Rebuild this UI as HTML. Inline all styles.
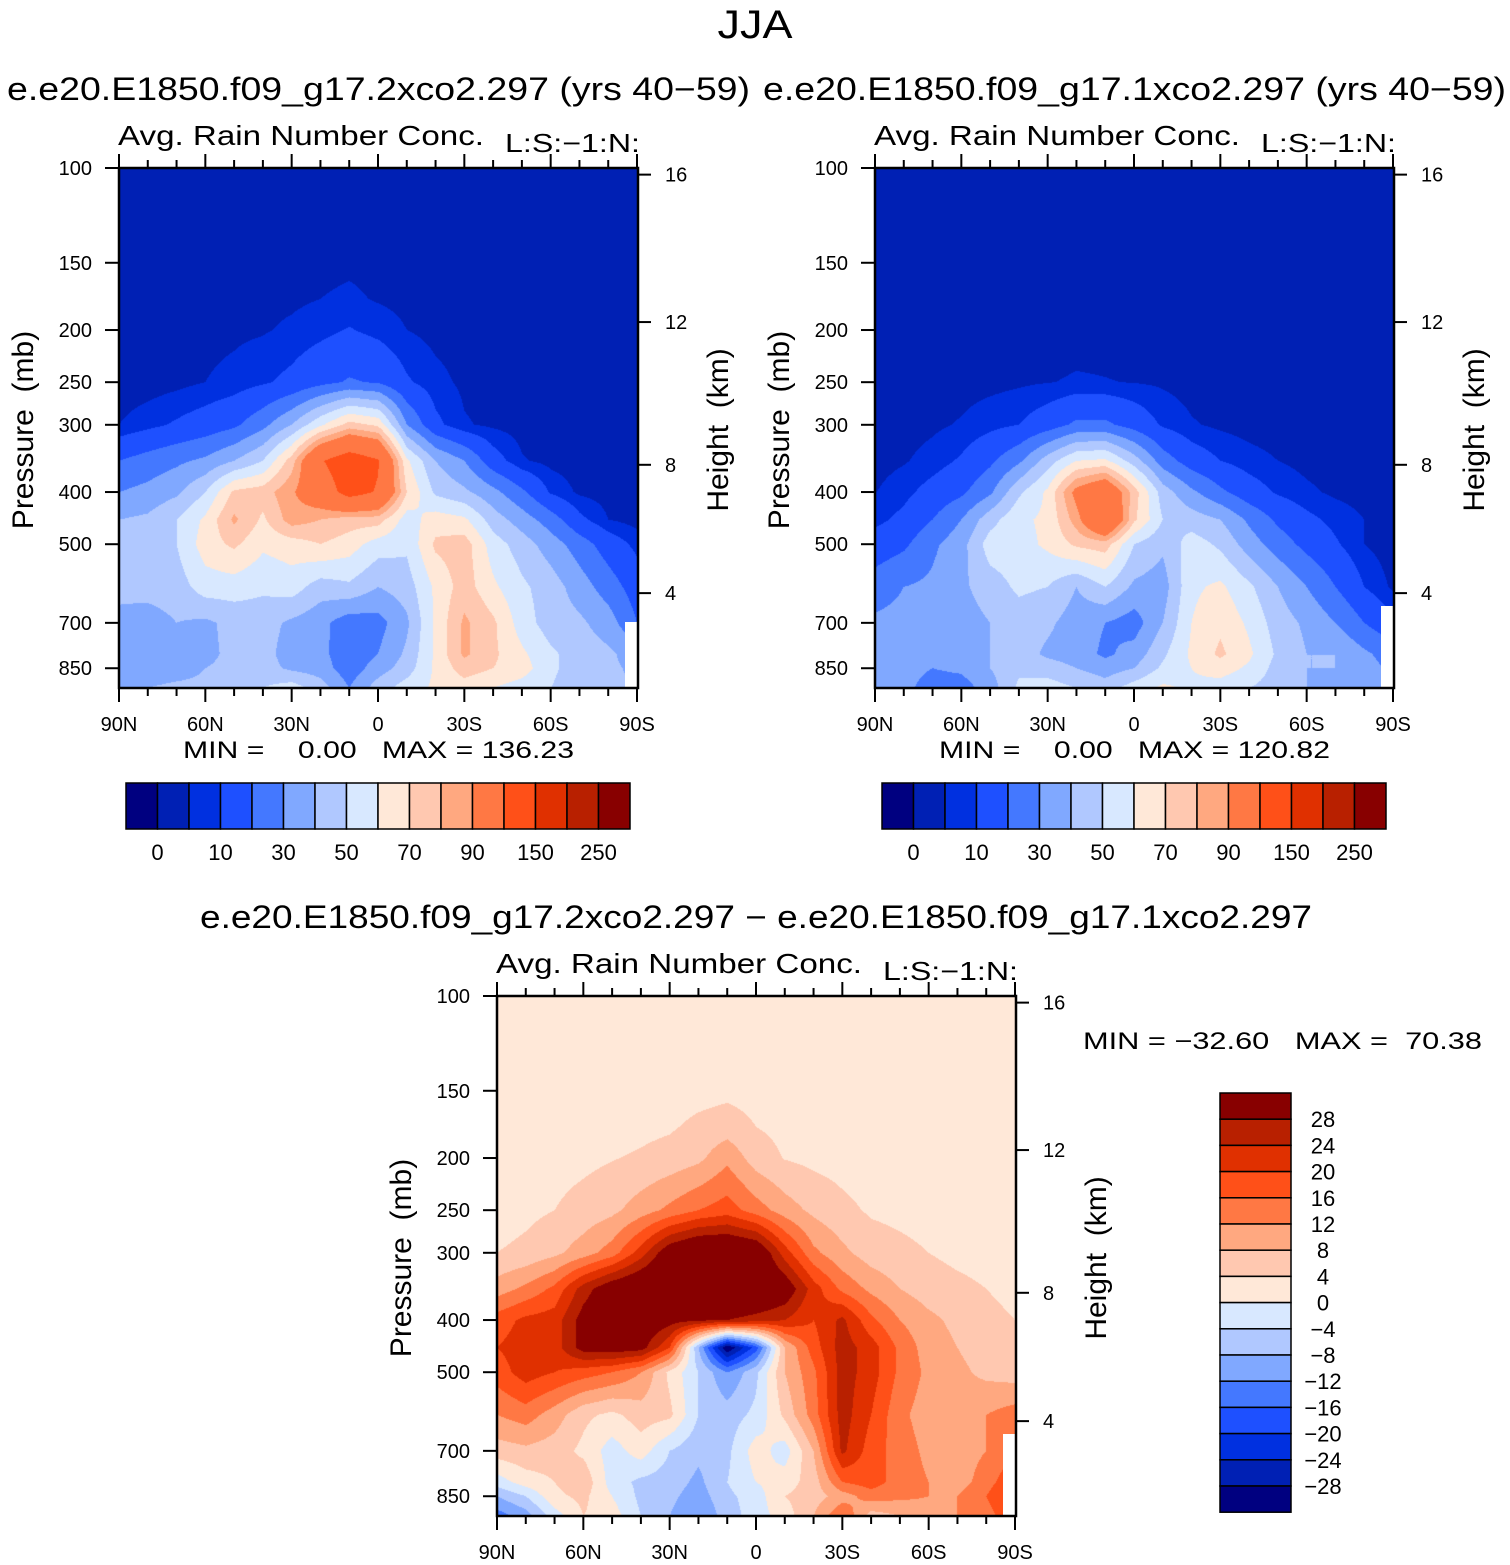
<!DOCTYPE html>
<html><head><meta charset="utf-8"><style>
html,body{margin:0;padding:0;background:#fff;}
#root{position:relative;width:1510px;height:1565px;overflow:hidden;background:#fff;font-family:"Liberation Sans",sans-serif;}
canvas{position:absolute;}
svg{position:absolute;left:0;top:0;}
text{white-space:pre;}
</style></head><body>
<div id="root">
<canvas id="c1" width="519" height="520" style="left:119px;top:168px"></canvas>
<canvas id="c2" width="519" height="520" style="left:875px;top:168px"></canvas>
<canvas id="c3" width="519" height="520" style="left:497px;top:996px"></canvas>
<svg id="ov" width="1510" height="1565" xmlns="http://www.w3.org/2000/svg"></svg>
</div>
<script>
const lats = [90,80,70,60,50,40,30,20,10,0,-10,-20,-30,-40,-50,-60,-70,-80,-90];
const pLevels = [100,125,150,175,200,250,300,350,400,450,500,600,700,800,850,925];
const levelsAbs = [0,5,10,20,30,40,50,60,70,80,90,120,150,200,250];
const levelsDiff = [-28,-24,-20,-16,-12,-8,-4,0,4,8,12,16,20,24,28];
const colors = ["#000080","#0020b4","#0030e0","#1e50ff","#4478ff","#80a8ff","#b0c8ff","#d8e8ff","#ffe8d8","#ffc8b0","#ffa880","#ff7844","#ff5018","#e03000","#b82000","#880000"];
const absBarLabels = ["0","10","30","50","70","90","150","250"];
const diffBarLabels = ["28","24","20","16","12","8","4","0","\u22124","\u22128","\u221212","\u221216","\u221220","\u221224","\u221228"];
const pTicks = [100,150,200,250,300,400,500,700,850];
const hTicks = [16,12,8,4];
const latTicks = [90,60,30,0,-30,-60,-90];
const latTickLabels = ["90N","60N","30N","0","30S","60S","90S"];
const stats1 = [0.00,136.23];
const stats2 = [0.00,120.82];
const stats3 = [-32.60,70.38];

const vals1 = [
[1,1,1,1,1,1,1,1,1,1,1,1,1,1,1,1,1,1,1],
[1.5,1.5,1.5,1.5,1.5,1.5,1.5,1.5,1.5,1.5,1.5,1.5,1.5,1.5,1.5,1.5,1.5,1.5,1.5],
[2,2,2,2,2,2.5,3,3.5,4,3.5,2.5,2,2,2,2,2,2,2,2],
[2,2,2.5,2.5,3,3.5,4,5,6,4.5,3.5,3,2.5,2,2,2,2,2,2],
[2,2.5,3,3.5,4,4.5,6,8,10.5,8,5,3.5,3,2.5,2,2,2,2,2],
[2,2.5,3.5,5,6.5,9,12,17,21,19,11,6.5,4,3,2.5,2,2,2,2],
[5,8,11,14,18,27,40,58,74,68,30,12,5.5,4,3,2.5,2,2,2],
[20,24,28,32,40,50,75,118,135,122,62,40,30,14,5.5,3.5,2.5,2,2],
[30,33,38,50,72,75,88,105,130,118,70,48,42,33,22,9,4,3,2.5],
[40,42,50,62,82,68,85,80,75,75,55,65,62,45,35,25,12,5,3],
[42,44,50,65,72,62,65,70,65,55,52,72,75,55,45,35,25,15,8],
[42,44,45,55,55,52,55,45,48,40,45,62,75,62,52,45,35,25,15],
[38,35,40,38,43,44,38,33,24,26,38,62,82,72,55,45,42,35,20],
[33,35,35,38,42,44,35,33,23,30,42,62,82,72,62,52,45,42,35],
[33,35,36,40,42,44,38,35,24,35,45,62,75,70,65,52,45,42,38],
[35,40,42,42,45,50,55,45,30,45,55,62,65,60,55,50,45,42,40]
];
const vals2 = [
[1,1,1,1,1,1,1,1,1,1,1,1,1,1,1,1,1,1,1],
[1.5,1.5,1.5,1.5,1.5,1.5,1.5,1.5,1.5,1.5,1.5,1.5,1.5,1.5,1.5,1.5,1.5,1.5,1.5],
[2,2,2,2,2,2,2,2,2,2,2,2,2,2,2,2,2,2,2],
[2,2,2,2,2,2,2.2,2.5,2.5,2.2,2,2,2,2,2,2,2,2,2],
[2,2,2,2,2.2,2.5,2.8,3.2,3.2,2.8,2.5,2.2,2,2,2,2,2,2,2],
[2,2,2.5,3,3.5,4.2,4.8,5.5,5.2,4.8,4.2,3,2.5,2,2,2,2,2,2],
[2,2.8,4,5.5,8,10,15,22,22,16,9,5.5,4,3,2.5,2,2,2,2],
[3,4.5,7,11,18,28,45,60,62,45,25,15,10,7,5,3.5,3,2.5,2],
[4.8,8,13,18,28,48,62,95,110,75,45,32,22,14,9,6,4,3,2.5],
[8,12,20,30,46,58,62,85,120,72,50,45,40,28,18,12,8,5,3],
[14,18,28,36,55,56,62,72,75,50,42,55,48,35,25,17,11,5,2.5],
[25,30,32,38,45,52,50,40,50,38,35,58,62,52,40,30,20,10,4],
[32,33,33,35,40,45,42,35,30,25,40,60,68,58,45,38,30,20,12],
[33,34,32,34,40,45,38,35,28,34,48,62,72,62,48,40,40,32,25],
[35,34,30,32,40,48,45,40,35,40,52,60,65,58,46,40,40,34,28],
[38,33,25,25,35,52,55,50,45,55,62,58,55,50,45,40,38,35,30]
];
const vals3 = [
[2,2,2,2,2,2,2,2,2,2,2,2,2,2,2,2,2,2,2],
[2,2,2,2,2,2,2,2,2,2,2,2,2,2,2,2,2,2,2],
[2,2,2,2,2,2,2,2.5,3,2.5,2,2,2,2,2,2,2,2,2],
[2,2,2,2,2.5,3,3.5,5,6,4,3,2.5,2,2,2,2,2,2,2],
[2,2,2.5,3,3.8,4.5,5.5,7,11,6,3.8,3,2.5,2,2,2,2,2,2],
[2,3,4,5.5,7,10,13,16,18,14,10,7,5,3.5,3,2.5,2,2,2],
[4,5,7,10,14,22,32,36,36,34,22,13,9,6,5,4,3,2.5,2],
[10,13,17,26,32,35,36,38,38,36,32,22,15,11,8,6,5,4,3],
[18,21,22,30,33,33,30,29,28,26,24,20,25,17,12,9,7,5,4],
[20,22,22,30,31,30,20,-8,-32,-18,8,18,26,22,15,10,8,6,5],
[18,22,20,18,16,12,3,-4,-12,-5,8,15,26,22,15,11,9,7,6],
[12,14,10,5,3,6,5,-4,-6,-3,5,14,26,20,13,10,9,12,14],
[6,7,6,3,-2,2,-4,-7,-5,2,-2,8,25,18,14,11,10,12,15],
[-2,2,4,7,-2,-5,-6,-9,-4,0,2,6,16,18,14,12,10,14,20],
[-8,-4,3,5,0,-5,-7,-10,-5,-2,4,6,10,14,13,12,12,16,22],
[-14,-10,-2,4,2,-4,-8,-12,-6,-2,2,8,16,6,8,10,12,14,20]
];

const W = 519, H = 520, P0 = 100, P1 = 925;
function yOfP(p){ return H*Math.log(p/P0)/Math.log(P1/P0); }
function xOfLat(l){ return (90-l)/180*(W-1); }
function pOfKm(z){ const m=z*1000; if(m<=11000) return 1013.25*Math.pow(1-2.25577e-5*m,5.25588); return 226.32*Math.exp(-(m-11000)/6341.6); }
function hexRgb(h){ return [parseInt(h.substr(1,2),16),parseInt(h.substr(3,2),16),parseInt(h.substr(5,2),16)]; }
const rgb = colors.map(hexRgb);

function paint(id, vals, levels){
  const cv = document.getElementById(id), ctx = cv.getContext('2d');
  const img = ctx.createImageData(W,H);
  const rowY = pLevels.map(yOfP);
  const colX = lats.map(xOfLat);
  for(let py=0; py<H; py++){
    const yy = py+0.5;
    let r=0; while(r<rowY.length-2 && yy>rowY[r+1]) r++;
    const ty = Math.min(1,Math.max(0,(yy-rowY[r])/(rowY[r+1]-rowY[r])));
    for(let px=0; px<W; px++){
      const xx = px+0.5;
      let c=0; while(c<colX.length-2 && xx>colX[c+1]) c++;
      const tx = Math.min(1,Math.max(0,(xx-colX[c])/(colX[c+1]-colX[c])));
      const v = (vals[r][c]*(1-tx)+vals[r][c+1]*tx)*(1-ty)+(vals[r+1][c]*(1-tx)+vals[r+1][c+1]*tx)*ty;
      let k=0; for(const L of levels){ if(v>=L) k++; }
      const col = rgb[k], o=(py*W+px)*4;
      img.data[o]=col[0]; img.data[o+1]=col[1]; img.data[o+2]=col[2]; img.data[o+3]=255;
    }
  }
  ctx.putImageData(img,0,0);
}
paint('c1', vals1, levelsAbs);
paint('c2', vals2, levelsAbs);
paint('c3', vals3, levelsDiff);

const NS = "http://www.w3.org/2000/svg";
const ov = document.getElementById('ov');
function mk(tag, attrs, parent){ const e=document.createElementNS(NS,tag); for(const k in attrs) e.setAttribute(k,attrs[k]); (parent||ov).appendChild(e); return e; }
function txt(s, x, y, size, attrs){ const e = mk('text', Object.assign({x:x,y:y,'font-size':size,'font-family':'Liberation Sans, sans-serif',fill:'#000'}, attrs||{})); e.textContent=s; return e; }

const t0 = txt("JJA", 755, 38, 40, {'text-anchor':'middle',textLength:75,lengthAdjust:'spacingAndGlyphs'});



function panel(ox, oy, title, tx0, tx1, tyTitle, name){
  const g = mk('g',{});
  
  
  if(title){
    const t = txt(title, tx0, tyTitle, 32, {textLength:tx1-tx0,lengthAdjust:'spacingAndGlyphs'});
    g.appendChild(t);
    
    
  }
  const a = txt("Avg. Rain Number Conc.", ox-1, oy-23, 28, {textLength:366,lengthAdjust:'spacingAndGlyphs'});
  g.appendChild(a);
  
  
  const l = txt("L:S:\u22121:N:", ox+386, oy-16, 26, {textLength:135,lengthAdjust:'spacingAndGlyphs'});
  g.appendChild(l);
  
  
  pTicks.forEach(p=>{
    const y = oy + yOfP(p);
    const tk = mk('line',{x1:ox-14,x2:ox,y1:y,y2:y,stroke:'#000','stroke-width':2},g);
    
    
    const lb = txt(String(p), ox-27, y+7, 20, {'text-anchor':'end'});
    g.appendChild(lb);
    
    
  });
  hTicks.forEach(z=>{
    const y = oy + yOfP(pOfKm(z));
    const tk = mk('line',{x1:ox+W,x2:ox+W+13,y1:y,y2:y,stroke:'#000','stroke-width':2},g);
    
    
    const lb = txt(String(z), ox+W+27, y+7, 20);
    g.appendChild(lb);
    
    
  });
  for(let lat=90; lat>=-90; lat-=10){
    const x = ox + xOfLat(lat);
    const major = (lat%30===0);
    const len = major?14:8;
    const b = mk('line',{x1:x,x2:x,y1:oy+H,y2:oy+H+len,stroke:'#000','stroke-width':2},g);
    
    
    const t = mk('line',{x1:x,x2:x,y1:oy,y2:oy-len,stroke:'#000','stroke-width':2},g);
    
    
  }
  latTicks.forEach((lat,i)=>{
    const lb = txt(latTickLabels[i], ox+xOfLat(lat), oy+H+43, 20, {'text-anchor':'middle'});
    g.appendChild(lb);
    
    
  });
  const fr = mk('rect',{x:ox,y:oy,width:W,height:H,fill:'none',stroke:'#000','stroke-width':2.5},g);
  
  
  const yl = txt("Pressure  (mb)", 0, 0, 30, {'text-anchor':'middle',transform:`translate(${ox-86},${oy+262}) rotate(-90)`});
  g.appendChild(yl);
  
  
  const hl = txt("Height  (km)", 0, 0, 30, {'text-anchor':'middle',transform:`translate(${ox+W+90},${oy+262}) rotate(-90)`});
  g.appendChild(hl);
  
  
  return g;
}
function blank(x,y,w,h){ const r = mk('rect',{x:x,y:y,width:w,height:h,fill:'#fff'});   }
blank(625,622,13,66); blank(1381,606,13,82); blank(1003,1434,13,82);

panel(119,168,"e.e20.E1850.f09_g17.2xco2.297 (yrs 40\u221259)",7,750,100,'panel-2xco2');
panel(875,168,"e.e20.E1850.f09_g17.1xco2.297 (yrs 40\u221259)",763,1506,100,'panel-1xco2');
panel(497,996,null,0,0,0,'panel-difference');
const dt = txt("e.e20.E1850.f09_g17.2xco2.297 \u2212 e.e20.E1850.f09_g17.1xco2.297", 200, 928, 32, {textLength:1112,lengthAdjust:'spacingAndGlyphs'});



function fmt(v){ return (v<0?"\u2212":"")+Math.abs(v).toFixed(2); }
const m1 = txt("MIN =    "+fmt(stats1[0])+"   MAX = "+fmt(stats1[1]), 183, 758, 24, {textLength:391,lengthAdjust:'spacingAndGlyphs'});


const m2 = txt("MIN =    "+fmt(stats2[0])+"   MAX = "+fmt(stats2[1]), 939, 758, 24, {textLength:391,lengthAdjust:'spacingAndGlyphs'});


const m3 = txt("MIN = "+fmt(stats3[0])+"   MAX =  "+fmt(stats3[1]), 1083, 1049, 24, {textLength:399,lengthAdjust:'spacingAndGlyphs'});



function hbar(x0,y0){
  const g = mk('g',{});
  
  
  const bw = 504/16;
  colors.forEach((c,i)=>{
    const r = mk('rect',{x:x0+i*bw,y:y0,width:bw,height:46,fill:c,stroke:'#000','stroke-width':1.5},g);
    
    
  });
  absBarLabels.forEach((s,i)=>{
    const lb = txt(s, x0+(1+2*i)*bw, y0+77, 22, {'text-anchor':'middle'});
    g.appendChild(lb);
    
    
  });
}
hbar(126,783); hbar(882,783);
(function(){
  const g = mk('g',{});
  
  
  const bh = 26.2, x0=1220, y0=1093;
  colors.slice().reverse().forEach((c,i)=>{
    const r = mk('rect',{x:x0,y:y0+i*bh,width:71,height:bh,fill:c,stroke:'#000','stroke-width':1.5},g);
    
    
  });
  diffBarLabels.forEach((s,i)=>{
    const lb = txt(s, 1323, y0+(i+1)*bh+8, 22, {'text-anchor':'middle'});
    g.appendChild(lb);
    
    
  });
})();
</script>
</body></html>
